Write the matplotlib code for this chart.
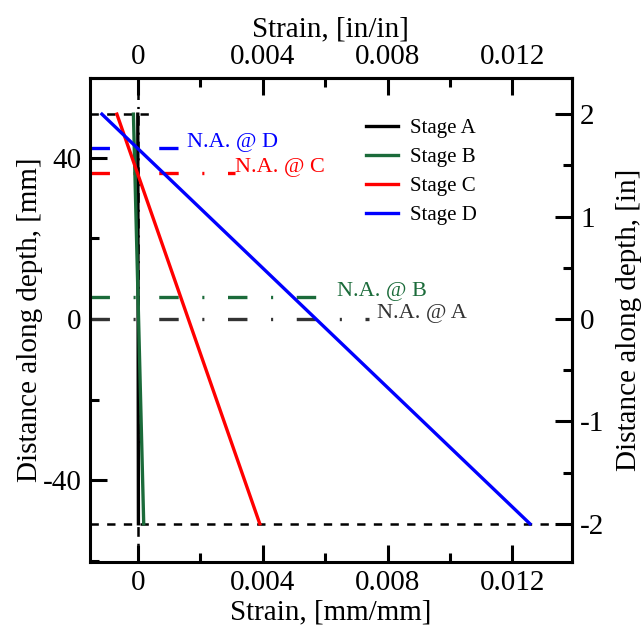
import numpy as np
import matplotlib
matplotlib.use("Agg")
import matplotlib.pyplot as plt
from matplotlib.ticker import MultipleLocator

plt.rcParams['font.family'] = ['Liberation Serif', 'DejaVu Serif']
plt.rcParams['axes.unicode_minus'] = False
plt.rcParams['lines.scale_dashes'] = False

# section depth, top and bottom fibre [mm]
depth = [50.8, -50.8]

# strain at top / bottom fibre for each stage
stages = ['Stage A', 'Stage B', 'Stage C', 'Stage D']
strain_top = [-0.00001, -0.00015, -0.00068, -0.00116]
strain_bot = [0.00001, 0.00018, 0.0039, 0.01256]
colors = ['black', '#1b6b3a', 'red', 'blue']

# neutral axis locations [mm]
na_labels = ['N.A. @ A', 'N.A. @ B', 'N.A. @ C', 'N.A. @ D']
na_depth = [0.0, 5.5, 36.2, 42.5]
na_end = [0.0074, 0.00574, 0.0031, 0.00128]
na_text_x = [0.00766, 0.00638, 0.00311, 0.00157]
na_colors = ['#333333', '#1b6b3a', 'red', 'blue']

xlim = (-0.00155, 0.0139)
ylim = (-60.3, 59.8)

fig = plt.figure(figsize=(6.41, 6.33), dpi=100)
ax = fig.add_axes([0.140, 0.112, 0.752, 0.765])

# neutral axis lines (dash-dot)
for i in range(len(na_labels)):
    ax.plot([xlim[0], na_end[i]], [na_depth[i], na_depth[i]], color=na_colors[i],
            lw=2.4, dashes=(14, 17, 1.5, 17))
    ax.text(na_text_x[i], na_depth[i] + 1.3, na_labels[i], color=na_colors[i],
            fontsize=16, va='center', ha='left')

# section top / bottom
ax.plot([xlim[0], 0.0004], [depth[0], depth[0]], color='black', lw=1.8, dashes=(6, 6))
ax.plot([xlim[0], xlim[1]], [depth[1], depth[1]], color='black', lw=1.8, dashes=(6, 6))
# zero strain line
ax.plot([0, 0], [ylim[0], ylim[1]], color='black', lw=1.8, dashes=(7, 5, 1.5, 5))

for i in range(len(stages)):
    ax.plot([strain_top[i], strain_bot[i]], depth, color=colors[i], lw=2.4, label=stages[i])

ax.set_xlim(xlim)
ax.set_ylim(ylim)
ax.set_xticks([0, 0.004, 0.008, 0.012])
ax.set_xticklabels(['0', '0.004', '0.008', '0.012'])
ax.xaxis.set_minor_locator(MultipleLocator(0.002))
ax.set_yticks([-40, 0, 40])
ax.yaxis.set_minor_locator(MultipleLocator(20))
ax.set_xlabel('Strain, [mm/mm]', fontsize=21, labelpad=2)
ax.set_ylabel('Distance along depth, [mm]', fontsize=21, labelpad=0)

top = ax.secondary_xaxis('top')
top.set_xticks([0, 0.004, 0.008, 0.012])
top.set_xticklabels(['0', '0.004', '0.008', '0.012'])
top.xaxis.set_minor_locator(MultipleLocator(0.002))
top.set_xlabel('Strain, [in/in]', fontsize=21, labelpad=5)

right = ax.secondary_yaxis('right', functions=(lambda v: v / 25.4, lambda v: v * 25.4))
right.set_yticks([-2, -1, 0, 1, 2])
right.yaxis.set_minor_locator(MultipleLocator(0.5))
right.set_ylabel('Distance along depth, [in]', fontsize=21, labelpad=8)

for a in (ax, top, right):
    a.tick_params(which='major', direction='in', length=12, width=2.2, labelsize=21, pad=6)
    a.tick_params(which='minor', direction='in', length=6.5, width=2.2)
    for s in a.spines.values():
        s.set_linewidth(2.2)
ax.tick_params(top=False, right=False, which='both')

leg = ax.legend(loc='upper left', bbox_to_anchor=(0.535, 0.955), frameon=False,
                fontsize=15, handlelength=1.5, handletextpad=0.6, labelspacing=0.45)

fig.savefig('out.png', dpi=100)
